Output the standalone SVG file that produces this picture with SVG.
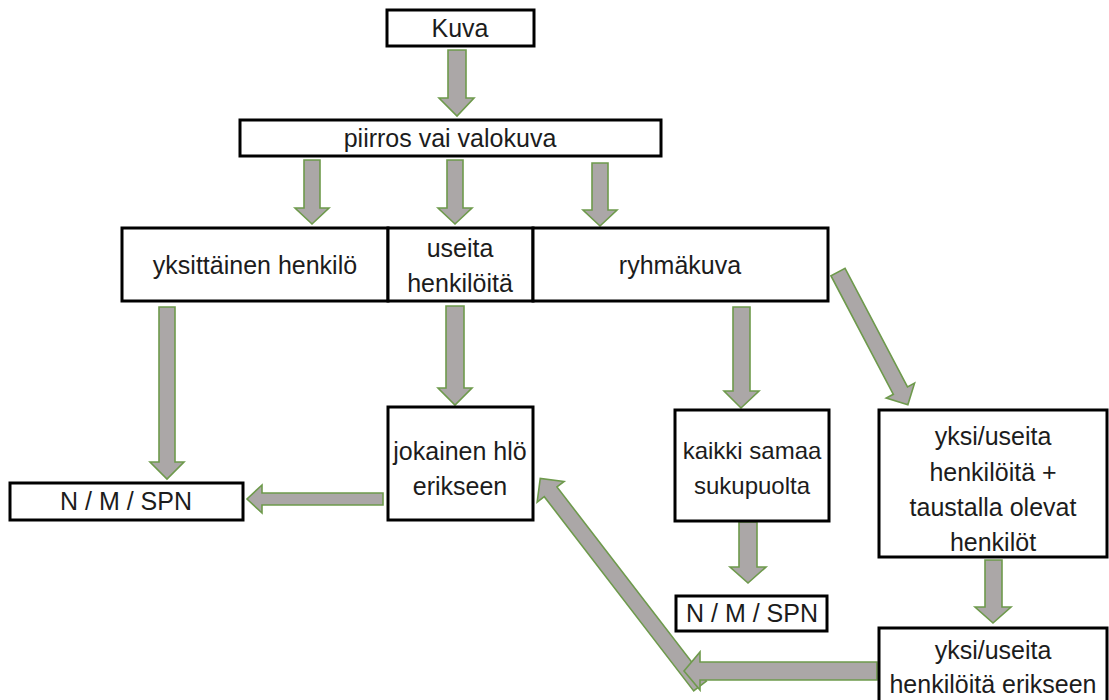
<svg xmlns="http://www.w3.org/2000/svg" width="1109" height="700" viewBox="0 0 1109 700">
<style>
.box{fill:#fff;stroke:#000;stroke-width:3}
.arr{fill:#aba7a7;stroke:#6e9a4c;stroke-width:1.6;stroke-linejoin:miter}
text{font-family:"Liberation Sans",Arial,sans-serif;font-size:25px;fill:#1c1c1c;text-anchor:middle}
.sm{font-size:24px}
</style>
<rect width="1109" height="700" fill="#fff"/>
<g id="connectors">
<polygon class="arr" points="448,50 466,50 466,98 474,98 457,116 439,98 448,98"/>
<polygon class="arr" points="304,160 320,160 320,208 329,208 312,224 295,208 304,208"/>
<polygon class="arr" points="447,160 463,160 463,208 472,208 455,224 438,208 447,208"/>
<polygon class="arr" points="592,163 608,163 608,210 617,210 600,226 583,210 592,210"/>
<polygon class="arr" points="159,307 175,307 175,462 184,462 167,479 150,462 159,462"/>
<polygon class="arr" points="446,306 464,306 464,388 472,388 455,405 438,388 446,388"/>
<polygon class="arr" points="733,307 750,307 750,391 759,391 741,408 724,391 733,391"/>
<polygon class="arr" transform="translate(838,272) rotate(62.24)" points="0,-8 134,-8 134,-16 150,0 134,16 134,8 0,8"/>
<polygon class="arr" points="383,493 262,493 262,485 247,499 262,513 262,505 383,505"/>
<polygon class="arr" points="739,522 757,522 757,567 766,567 748,583 730,567 739,567"/>
<polygon class="arr" points="985,560 1002,560 1002,607 1011,607 993,623 975,607 985,607"/>
<polygon class="arr" transform="translate(700,686) rotate(-127.57)" points="0,-8 245,-8 245,-17 262,0 245,17 245,8 0,8"/>
<polygon class="arr" points="877,662 700,662 700,652 684,671 700,690 700,680 877,680"/>
</g>
<g id="kuva"><rect class="box" x="387" y="10" width="147" height="36"/><text x="460" y="37">Kuva</text></g>
<g id="piirros"><rect class="box" x="240" y="120" width="421" height="36"/><text x="450" y="147">piirros vai valokuva</text></g>
<g id="yksittainen"><rect class="box" x="122" y="228" width="266" height="73"/><text x="255" y="274">yksittäinen henkilö</text></g>
<g id="useita"><rect class="box" x="388" y="228" width="145" height="73"/><text x="460" y="257">useita</text><text x="460" y="292">henkilöitä</text></g>
<g id="ryhmakuva"><rect class="box" x="533" y="228" width="295" height="73"/><text x="680" y="274">ryhmäkuva</text></g>
<g id="jokainen"><rect class="box" x="388" y="407" width="145" height="113"/><text x="460" y="460">jokainen hlö</text><text x="460" y="495">erikseen</text></g>
<g id="nms1"><rect class="box" x="10" y="483" width="233" height="37"/><text x="126" y="510">N / M / SPN</text></g>
<g id="kaikki"><rect class="box" x="675" y="410" width="154" height="111"/><text class="sm" x="752" y="459">kaikki samaa</text><text class="sm" x="752" y="494">sukupuolta</text></g>
<g id="nms2"><rect class="box" x="676" y="596" width="151" height="35"/><text x="752" y="622">N / M / SPN</text></g>
<g id="taustalla"><rect class="box" x="879" y="410" width="228" height="147"/><text x="993" y="445">yksi/useita</text><text x="993" y="481">henkilöitä +</text><text x="993" y="516">taustalla olevat</text><text x="993" y="551">henkilöt</text></g>
<g id="erikseen"><rect class="box" x="879" y="628" width="228" height="80"/><text x="993" y="659">yksi/useita</text><text x="993" y="693">henkilöitä erikseen</text></g>
</svg>
